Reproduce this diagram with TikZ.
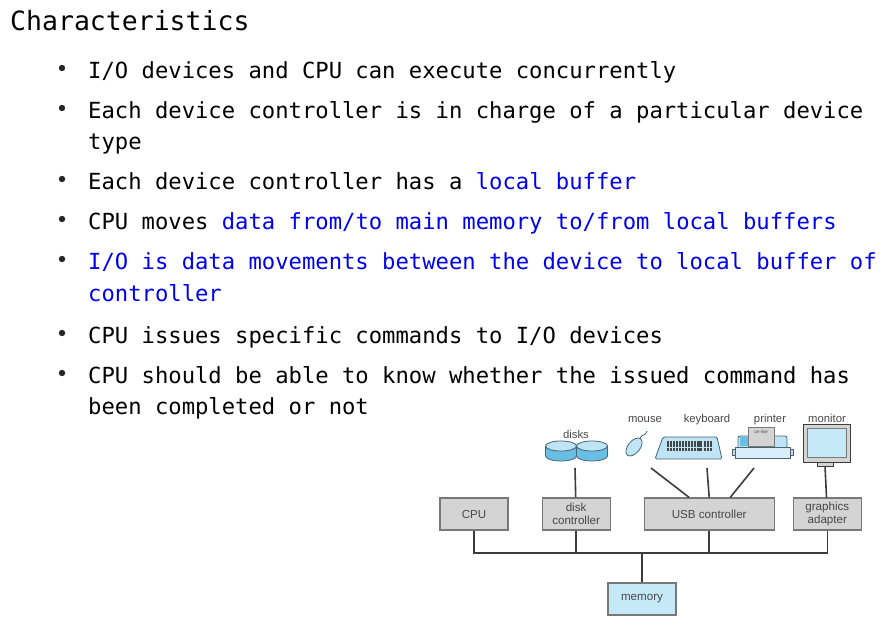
\documentclass[tikz,border=0pt]{standalone}
\usepackage{fontspec}
\setmainfont{DejaVu Sans Mono}
\newfontfamily\figfont{Liberation Sans}
\usetikzlibrary{positioning}

\definecolor{txtblue}{RGB}{0,0,238}
\definecolor{boxgray}{RGB}{212,212,212}
\definecolor{edgegray}{RGB}{120,120,120}
\definecolor{wiregray}{RGB}{60,60,60}
\definecolor{memblue}{RGB}{198,233,248}
\definecolor{lblgray}{RGB}{72,72,72}
\definecolor{devblue}{RGB}{190,228,245}
\definecolor{diskblue}{RGB}{105,190,228}
\definecolor{devedge}{RGB}{70,100,120}
\definecolor{keygray}{RGB}{70,70,70}

\tikzset{
  box/.style={draw=edgegray, fill=boxgray, line width=1.1pt, minimum width=68pt,
    minimum height=32pt, inner sep=0pt, align=center, text=lblgray,
    font=\figfont\fontsize{11.6}{13.5}\selectfont},
  membox/.style={box, fill=memblue},
  devlbl/.style={anchor=base, inner sep=0pt, text=lblgray,
    font=\figfont\fontsize{11.3}{13}\selectfont},
  devbody/.style={draw=devedge, fill=devblue, line width=.8pt},
  wire/.style={draw=wiregray, line width=1.6pt},
  itemtxt/.style={anchor=base west, inner sep=0pt, font=\fontsize{22.2}{26}\selectfont}
}

\begin{document}
\begin{tikzpicture}[x=1pt, y=-1pt]
\useasboundingbox (0,0) rectangle (893,624);

% slide text
\node[anchor=base west, inner sep=0pt, font=\fontsize{26.5}{30}\selectfont] (title) at (10,30) {Characteristics};
\foreach \y in {78,118,189,229,269,343,383}
  \fill[black!85] (62,\y-10) circle (3.2pt);
\node[itemtxt] (i1) at (88,78) {I/O devices and CPU can execute concurrently};
\node[itemtxt] (i2) at (88,118) {Each device controller is in charge of a particular device};
\node[itemtxt] (i2b) at (88,149) {type};
\node[itemtxt] (i3) at (88,189) {Each device controller has a \textcolor{txtblue}{local buffer}};
\node[itemtxt] (i4) at (88,229) {CPU moves \textcolor{txtblue}{data from/to main memory to/from local buffers}};
\node[itemtxt, text=txtblue] (i5) at (88,269) {I/O is data movements between the device to local buffer of};
\node[itemtxt, text=txtblue] (i5b) at (88,301) {controller};
\node[itemtxt] (i6) at (88,343) {CPU issues specific commands to I/O devices};
\node[itemtxt] (i7) at (88,383) {CPU should be able to know whether the issued command has};
\node[itemtxt] (i7b) at (88,414) {been completed or not};

% controllers and memory
\node[box] (cpu) at (474,514) {CPU};
\node[box, right=33pt of cpu] (dctl) {disk\\controller};
\node[box, right=33pt of dctl, minimum width=130pt] (usb) {USB controller};
\node[box, right=18pt of usb] (gfx) {graphics\\adapter};
\node[membox] (mem) at (642,599) {memory};

% devices
\node[devlbl] (disksl) at (576,438) {disks};
\node[devlbl] (mousel) at (645,422) {mouse};
\node[devlbl] (kbdl) at (707,422) {keyboard};
\node[devlbl] (prnl) at (770,422) {printer};
\node[devlbl] (monl) at (827,422) {monitor};

% disks
\foreach \cx in {561,592} {
  \filldraw[devbody, fill=diskblue] (\cx-15.5,446) -- (\cx-15.5,456)
    arc[start angle=180, end angle=360, x radius=15.5pt, y radius=5pt] -- (\cx+15.5,446) -- cycle;
  \filldraw[devbody] (\cx,446) ellipse [x radius=15.5pt, y radius=5pt];
}
% mouse
\filldraw[devbody, rotate around={51:(634,447)}] (634,447) ellipse [x radius=10.5pt, y radius=6pt];
\draw[devedge, line width=.8pt] (640,439) .. controls (641,433) and (646,437) .. (647,431);
% keyboard
\filldraw[devbody, rounded corners=1.5pt] (655,459) -- (663,437) -- (717,437) -- (722,459) -- cycle;
\foreach \r in {0,1,2}
  \foreach \c in {0,...,11}
    \fill[keygray] (667+\c*2.95,441+\r*3.4) rectangle ++(2.4,2.8);
\foreach \r in {0,1,2}
  \foreach \c in {0,1,2}
    \fill[keygray] (704+\c*2.95,441+\r*3.4) rectangle ++(2.4,2.8);
% printer
\filldraw[devbody, rounded corners=2pt] (738,436) rectangle (787,458);
\fill[diskblue] (740,437) rectangle (748,446);
\filldraw[devbody, fill=devblue!60!white] (735,447) rectangle (790,458);
\filldraw[devbody, fill=boxgray] (732,449) rectangle (735,455);
\filldraw[devbody, fill=boxgray] (790,449) rectangle (793,455);
\filldraw[draw=edgegray, fill=boxgray, line width=.5pt] (748,427) rectangle (774,446);
\node[inner sep=0pt, text=lblgray, font=\figfont\fontsize{4.5}{5}\selectfont] (online) at (761,432) {on-line};
% monitor
\filldraw[draw=wiregray, fill=boxgray, line width=.8pt] (803,424) rectangle (850,462);
\filldraw[draw=edgegray, fill=memblue, line width=.6pt] (807,428) rectangle (846,457);
\filldraw[draw=wiregray, fill=boxgray, line width=.6pt] (817,462) rectangle (833,466);

% connectors
\coordinate (diskB) at (575,468);
\coordinate (mouseB) at (651,468);
\coordinate (kbdB) at (707,468);
\coordinate (prnB) at (754,468);
\coordinate (monB) at (825,466);
\coordinate (bus) at (642,553);
\draw[wire] (dctl) -- (diskB);
\draw[wire] ([xshift=-20pt]usb.north) -- (mouseB);
\draw[wire] (usb.north) -- (kbdB);
\draw[wire] ([xshift=21pt]usb.north) -- (prnB);
\draw[wire] (gfx) -- (monB);
\draw[wire] (cpu.south) |- (bus) -| (gfx.south);
\draw[wire] (dctl.south) -- (dctl.south |- bus);
\draw[wire] (usb.south) -- (usb.south |- bus);
\draw[wire] (mem) -- (bus);
\end{tikzpicture}
\end{document}
